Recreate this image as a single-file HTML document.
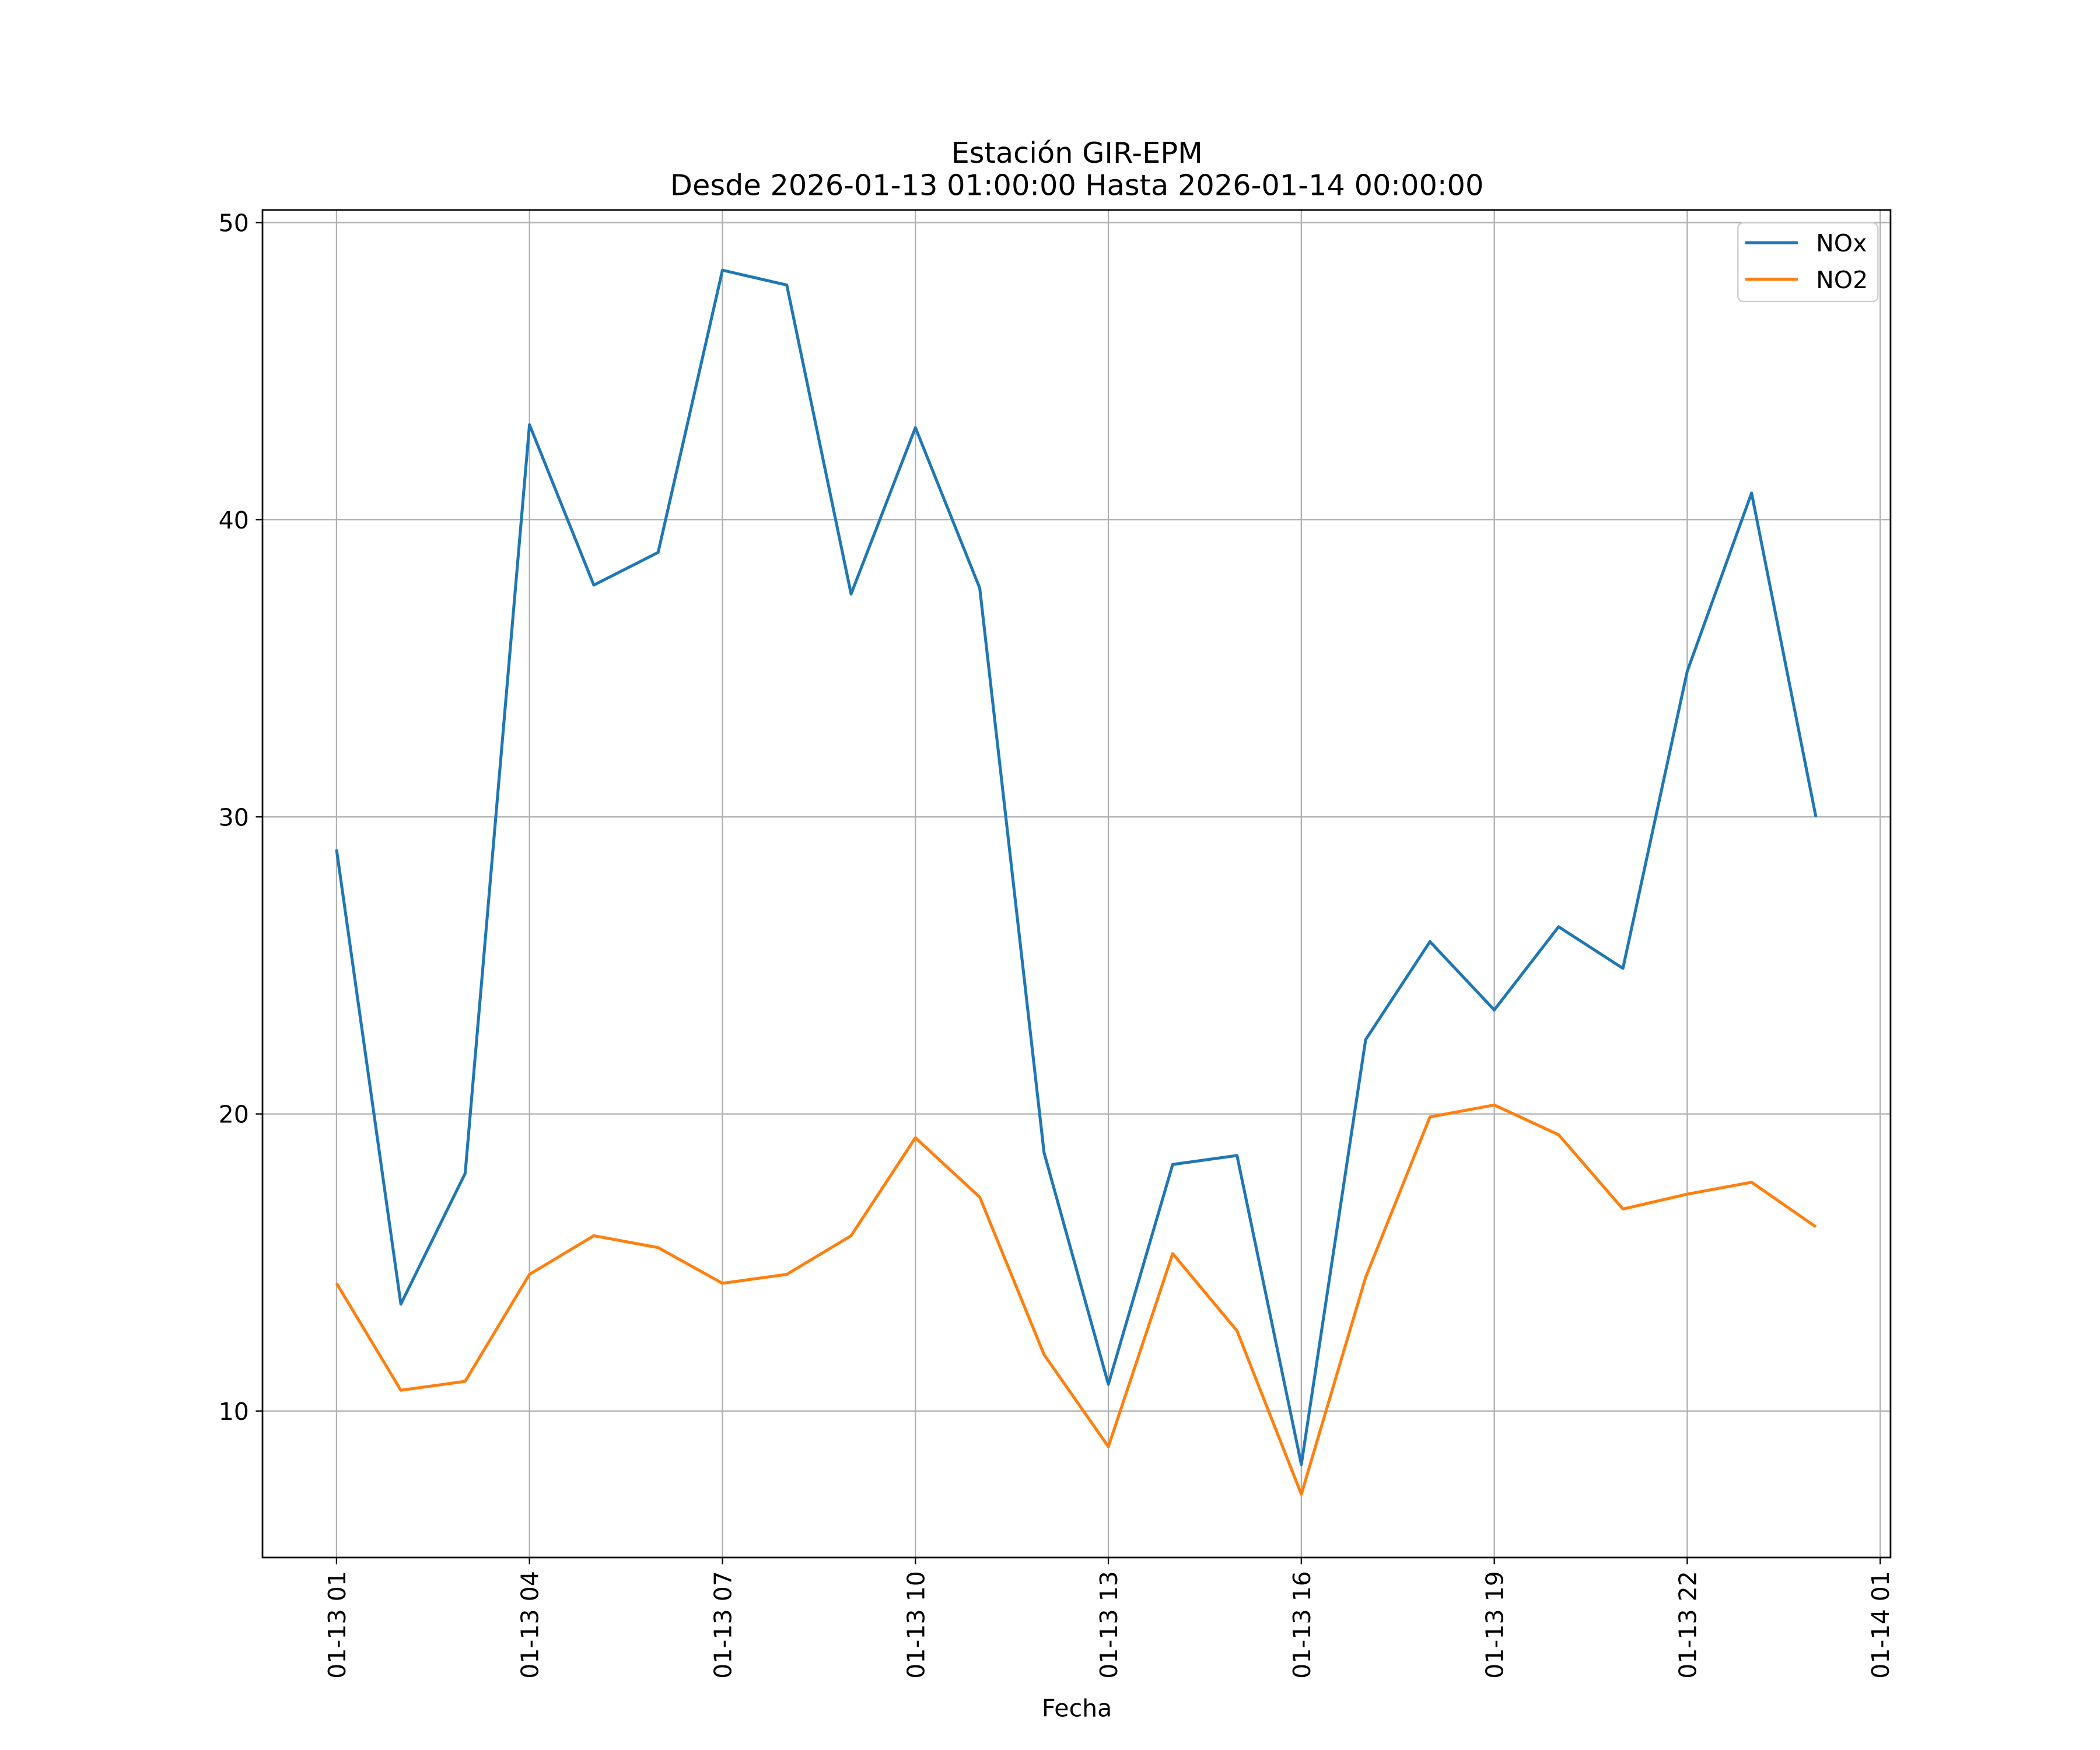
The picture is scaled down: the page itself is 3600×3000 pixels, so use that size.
<!DOCTYPE html>
<html><head><meta charset="utf-8"><style>
html,body{margin:0;padding:0;background:#fff;}
svg{display:block;font-family:"DejaVu Sans","Liberation Sans",sans-serif;}
</style></head><body>
<svg id="chart" width="3600" height="3000" viewBox="0 0 1560 1300" xmlns="http://www.w3.org/2000/svg">
<rect width="1560" height="1300" fill="#fff"/>
<text x="800" y="121" font-size="21.4" text-anchor="middle">Estación GIR-EPM</text>
<text x="800" y="145" font-size="21.4" text-anchor="middle">Desde 2026-01-13 01:00:00 Hasta 2026-01-14 00:00:00</text>
<g id="grid"></g>
<g id="series"></g>
<rect x="195" y="156" width="1209.4" height="1001" fill="none" stroke="#000" stroke-width="1.2"/>
<g id="axes"></g>
<text x="800" y="1275" font-size="17.8" text-anchor="middle">Fecha</text>
<g>
<rect x="1291" y="165.5" width="104" height="58.5" rx="4" fill="#fff" fill-opacity="0.8" stroke="#ccc" stroke-width="1"/>
<line x1="1296.5" y1="180.3" x2="1335.5" y2="180.3" stroke="#1f77b4" stroke-width="2.2"/>
<text x="1349" y="186.8" font-size="17.8">NOx</text>
<line x1="1296.5" y1="207.5" x2="1335.5" y2="207.5" stroke="#ff7f0e" stroke-width="2.2"/>
<text x="1349" y="214" font-size="17.8">NO2</text>
</g>
</svg>
<script>
const hours = [1,2,3,4,5,6,7,8,9,10,11,12,13,14,15,16,17,18,19,20,21,22,23,24];
const noxValues = [28.9,13.6,18.0,43.2,37.8,38.9,48.4,47.9,37.5,43.1,37.7,18.7,10.9,18.3,18.6,8.2,22.5,25.8,23.5,26.3,24.9,34.9,40.9,30.0];
const no2Values = [14.3,10.7,11.0,14.6,15.9,15.5,14.3,14.6,15.9,19.2,17.2,11.9,8.8,15.3,12.7,7.2,14.5,19.9,20.3,19.3,16.8,17.3,17.7,16.2];
const yTicks = [10,20,30,40,50];
const xTickHours = [1,4,7,10,13,16,19,22,25];
const xTickLabels = ["01-13 01","01-13 04","01-13 07","01-13 10","01-13 13","01-13 16","01-13 19","01-13 22","01-14 01"];

const NS="http://www.w3.org/2000/svg";
const X0=195,X1=1404.4,Y0=156,Y1=1157;
const xScale=h=>250+(h-1)*47.78;
const yScale=v=>1048.2-(v-10)*22.07;
function mk(tag,attrs,parent){const e=document.createElementNS(NS,tag);for(const k in attrs)e.setAttribute(k,attrs[k]);parent.appendChild(e);return e;}
const grid=document.getElementById('grid'),axes=document.getElementById('axes'),series=document.getElementById('series');
yTicks.forEach(v=>{
  const y=yScale(v);
  const g=mk('line',{x1:X0,x2:X1,y1:y,y2:y,stroke:'#b0b0b0','stroke-width':1},grid);
  
  
  mk('line',{x1:X0-5,x2:X0,y1:y,y2:y,stroke:'#000','stroke-width':1},axes);
  const t=mk('text',{x:X0-10,y:y+6.5,'font-size':17.8,'text-anchor':'end'},axes);
  
  
  t.textContent=v;
});
xTickHours.forEach((h,i)=>{
  const x=xScale(h);
  const g=mk('line',{x1:x,x2:x,y1:Y0,y2:Y1,stroke:'#b0b0b0','stroke-width':1},grid);
  
  
  mk('line',{x1:x,x2:x,y1:Y1,y2:Y1+5,stroke:'#000','stroke-width':1},axes);
  const t=mk('text',{x:0,y:0,'font-size':17.8,'text-anchor':'end',transform:`translate(${x+6.5},${Y1+10}) rotate(-90)`},axes);
  
  
  t.textContent=xTickLabels[i];
});
function drawLine(vals,color,name){
  const pts=vals.map((v,i)=>xScale(hours[i])+','+yScale(v)).join(' ');
  const p=mk('polyline',{points:pts,fill:'none',stroke:color,'stroke-width':2.2,'stroke-linejoin':'round'},series);
  
  
}
drawLine(noxValues,'#1f77b4','nox-line');
drawLine(no2Values,'#ff7f0e','no2-line');
</script>
</body></html>
